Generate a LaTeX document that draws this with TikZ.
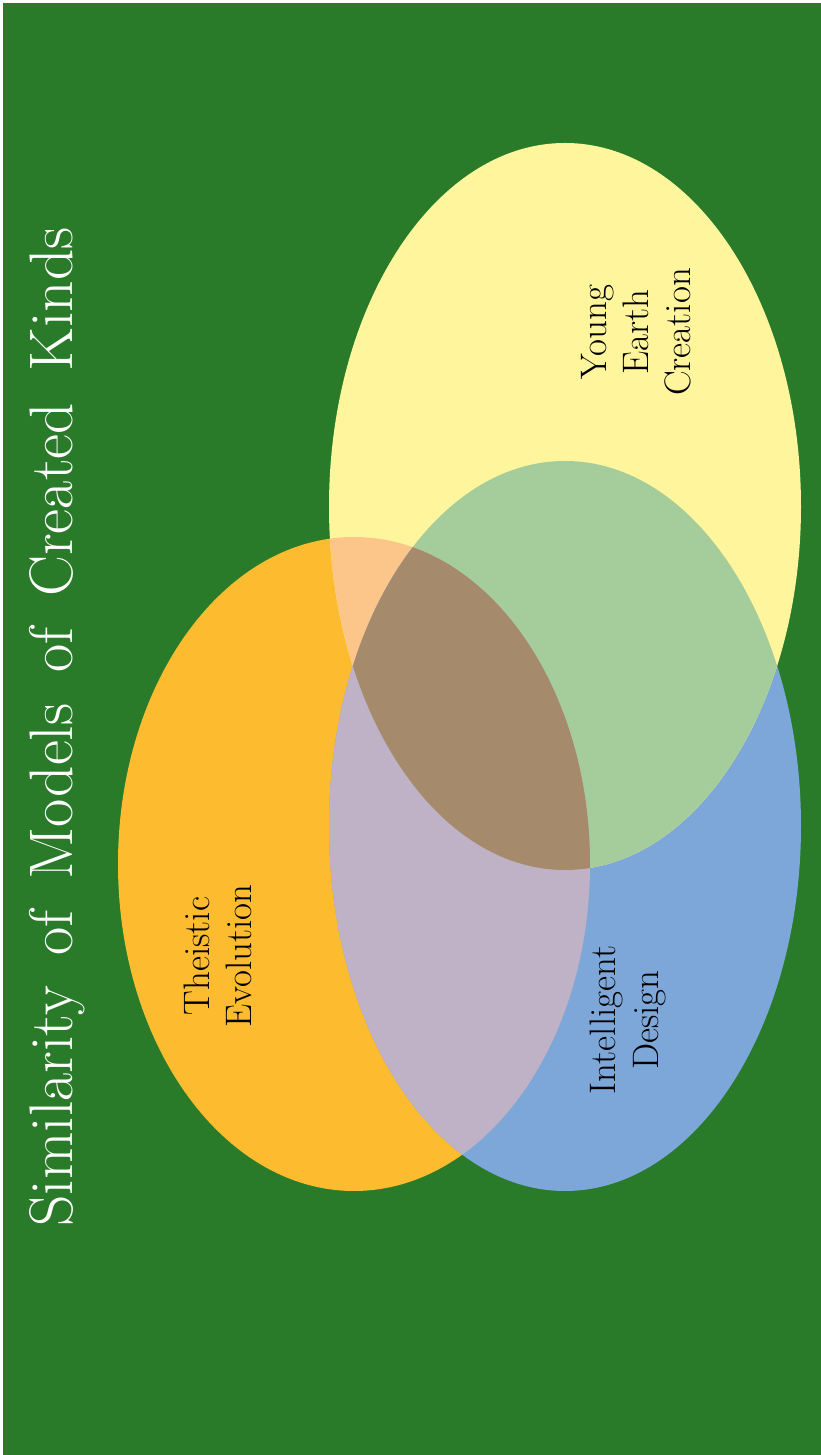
\documentclass[tikz,border=0pt]{standalone}
\definecolor{slidegreen}{RGB}{41,123,41}
\definecolor{yecyellow}{RGB}{255,245,156}
\definecolor{teorange}{RGB}{253,187,48}
\definecolor{idblue}{RGB}{125,167,216}
\definecolor{yoover}{RGB}{252,198,138}
\definecolor{ybover}{RGB}{165,205,155}
\definecolor{obover}{RGB}{191,177,198}
\definecolor{allover}{RGB}{165,138,107}
\tikzset{
  setlabel/.style={rotate=90,align=center,font=\fontsize{21}{24}\selectfont},
}
\begin{document}
\begin{tikzpicture}[x=0.02cm,y=0.02cm]
    \useasboundingbox (0,0) rectangle (821,1455);
    % slide background
    \fill[white] (0,0) rectangle (821,1455);
    \fill[slidegreen] (3,0) rectangle (821,1452);
    % the three sets
    \fill[teorange] (354,591) ellipse (236 and 327);
    \fill[idblue] (565,629) ellipse (236 and 365);
    \fill[yecyellow] (565,948.5) ellipse (236 and 363.5);
    % overlaps
    \begin{scope}
        \clip (565,948.5) ellipse (236 and 363.5);
        \fill[yoover] (354,591) ellipse (236 and 327);
        \fill[ybover] (565,629) ellipse (236 and 365);
    \end{scope}
    \begin{scope}
        \clip (354,591) ellipse (236 and 327);
        \fill[obover] (565,629) ellipse (236 and 365);
        \clip (565,629) ellipse (236 and 365);
        \fill[allover] (565,948.5) ellipse (236 and 363.5);
    \end{scope}
    % labels
    \node[setlabel] (yec) at (636,1123) {Young\\Earth\\Creation};
    \node[setlabel] (te) at (218,499) {Theistic\\Evolution};
    \node[setlabel] (id) at (628,435) {Intelligent\\Design};
    % title
    \node[rotate=90,anchor=base,text=white,font=\fontsize{35}{40}\selectfont] (title) at (72,728) {\spaceskip=0.5em\relax Similarity of Models of Created Kinds};
\end{tikzpicture}
\end{document}
